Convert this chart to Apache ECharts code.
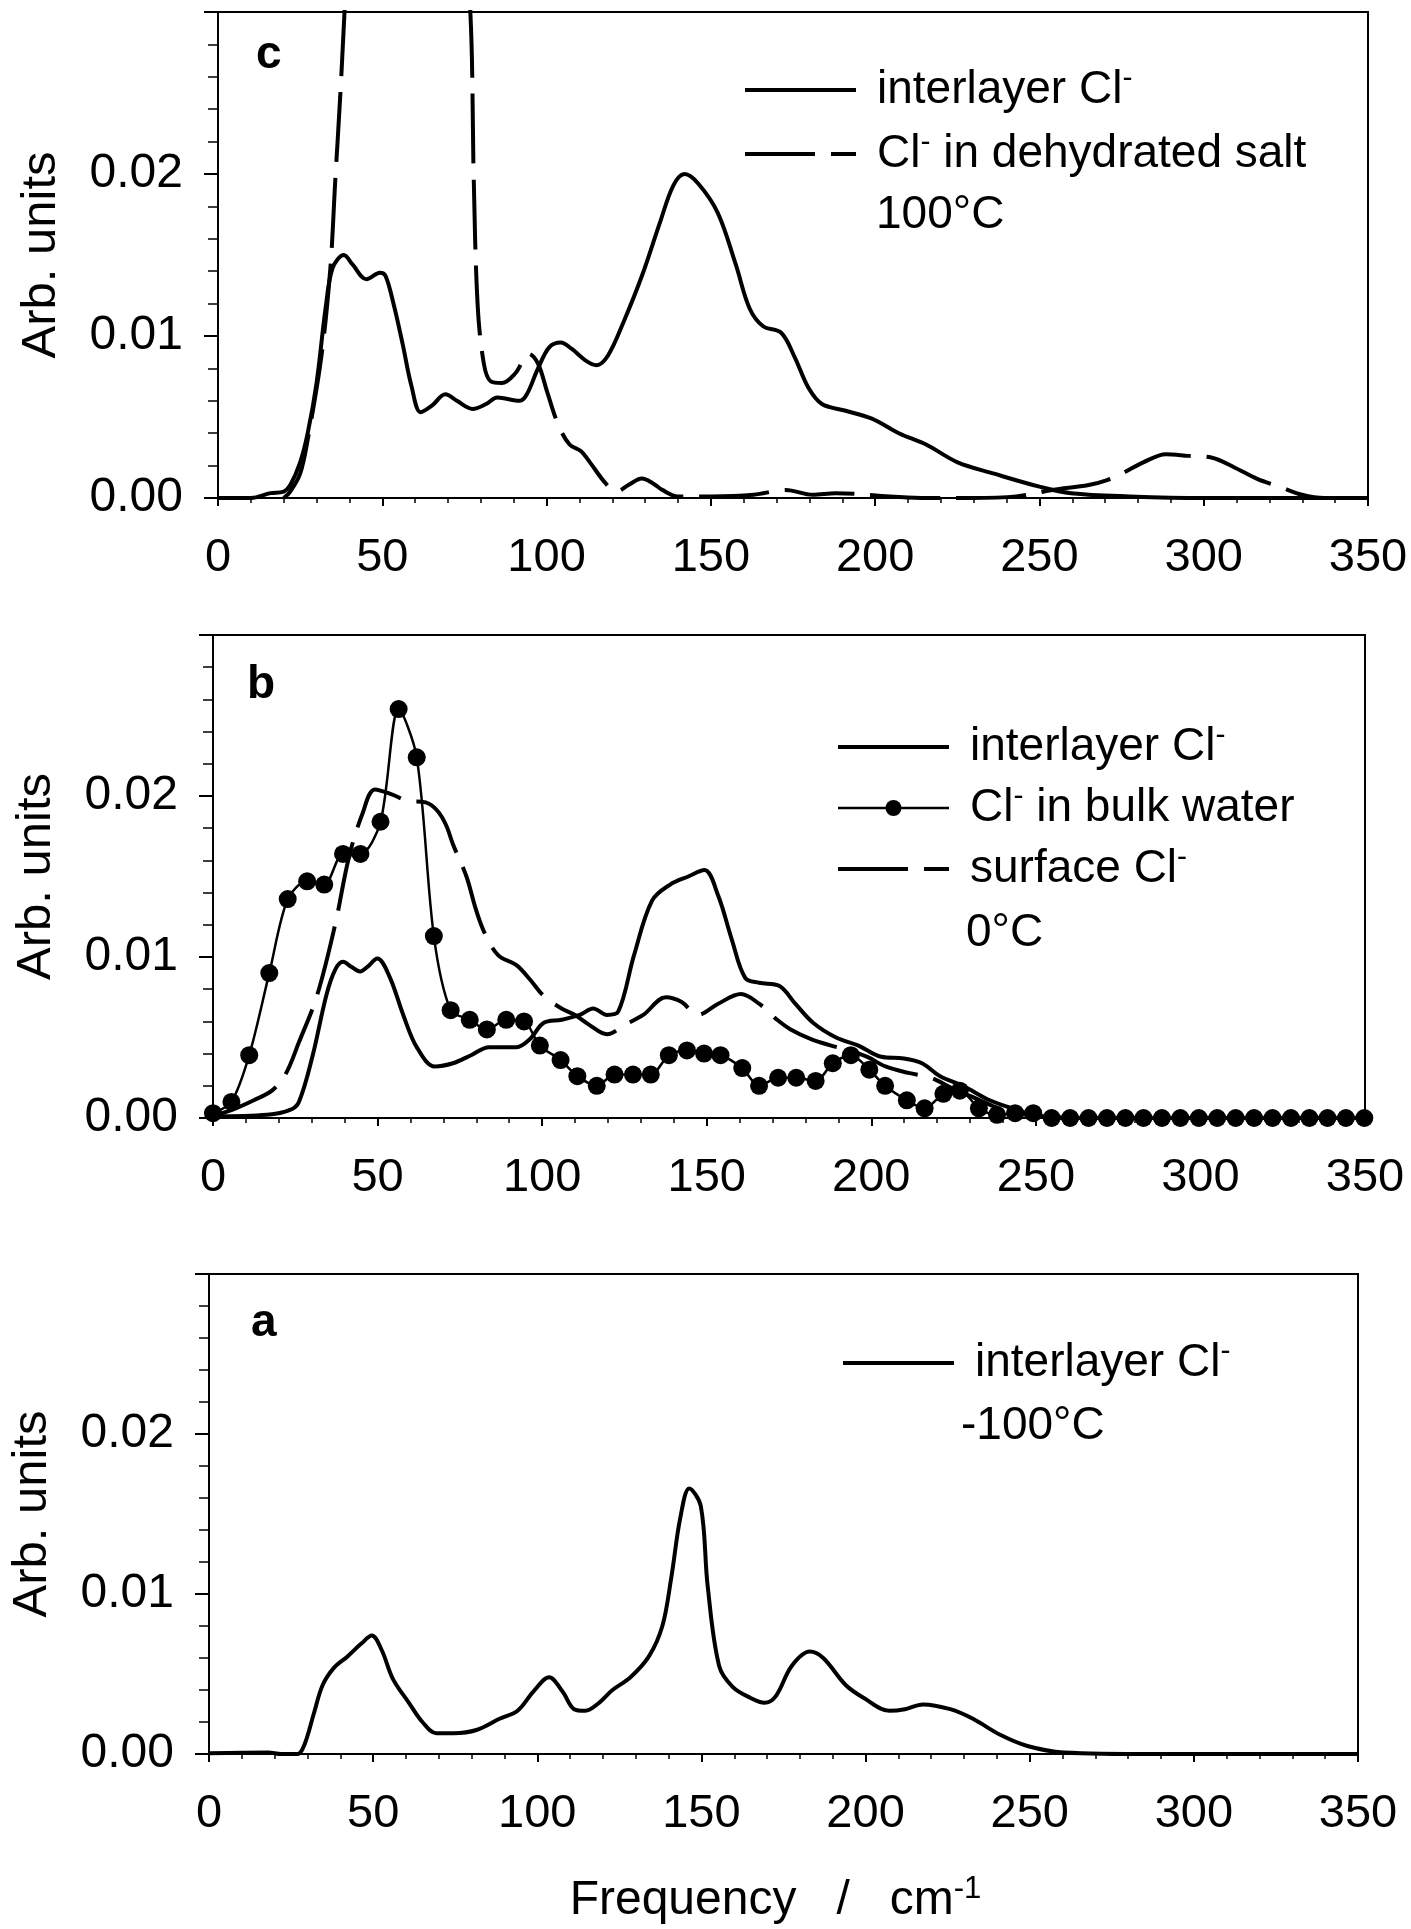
<html>
<head>
    <meta charset="utf-8">
    <script src="https://cdn.jsdelivr.net/npm/echarts@6/dist/echarts.min.js"></script>
</head>
<body style="margin:0;background:#fff">
<div id="main" style="width:1411px;height:1929px"></div>
<script>
    // [frequency cm-1, intensity]
    // panel c, 100 C
    var cInterlayer = [[0,0],[10,0],[16,0.0003],[20,0.0004],[22,0.0008],[25,0.0022],[27.3,0.004],[30,0.0071],[32.8,0.0118],[34.9,0.0142],[38.3,0.0150],[41,0.0144],[45.2,0.0135],[49.3,0.0139],[51,0.0137],[53.4,0.012],[56.2,0.0095],[58.9,0.0069],[61.7,0.0053],[65.1,0.0057],[69.2,0.0064],[72.7,0.006],[77.5,0.0055],[81.6,0.0058],[85,0.0062],[91.9,0.006],[94,0.0064],[97.4,0.008],[100.8,0.0093],[104.3,0.0096],[107.7,0.0092],[111.8,0.0085],[115.2,0.0082],[118.7,0.0088],[123.5,0.0109],[129,0.0137],[134.5,0.017],[138.6,0.0193],[142,0.0200],[146.2,0.0194],[152.1,0.0176],[157.6,0.0144],[161.8,0.0117],[165.9,0.0106],[171.4,0.0102],[175.5,0.0087],[179.7,0.0068],[183.8,0.0058],[190.7,0.0054],[199,0.0049],[207.2,0.0040],[215.5,0.0033],[225.1,0.0022],[236.2,0.0015],[250,0.0007],[259.6,0.0003],[277.5,0.0001],[300,0],[350,0]];
    var cDehydrated = [[20,0],[22,0.0004],[25,0.0015],[27.3,0.0036],[31.5,0.0088],[34.2,0.0142],[35.6,0.0193],[37.2,0.0248],[38.5,0.030],[40,0.036],[50,0.042],[65,0.042],[74,0.036],[76.8,0.030],[77.8,0.020],[79,0.012],[80.9,0.0083],[83,0.0072],[86.4,0.0071],[90.5,0.0077],[94.6,0.0089],[97.4,0.0083],[100.1,0.0066],[103.6,0.0045],[107,0.0033],[110.4,0.0029],[113.2,0.0022],[118,0.0009],[121.4,0.0004],[124.9,0.0008],[129,0.0012],[132.4,0.0009],[135.2,0.0005],[140,0.0001],[150,0.0001],[163,0.0002],[172.8,0.0005],[181,0.0002],[188,0.0003],[204.5,0.0001],[215.5,0],[229,0],[243,0.0001],[254,0.0005],[265,0.0008],[270.6,0.0011],[276,0.0016],[281.6,0.0022],[288.5,0.0027],[295.4,0.0026],[302.3,0.0025],[309.2,0.0019],[316.1,0.0012],[323,0.0007],[329.9,0.0002],[336.8,0],[345,0]];

    // panel b, 0 C
    var bInterlayer = [[0,0.0001],[16.5,0.0002],[23.4,0.0005],[26.1,0.001],[30.3,0.0039],[34.4,0.0076],[37.1,0.0092],[39.5,0.0097],[42,0.0094],[44.7,0.0091],[47,0.0094],[49.9,0.0099],[53.6,0.0088],[57.8,0.0064],[61.9,0.0044],[67.4,0.0032],[72.9,0.0034],[78.4,0.0039],[83.9,0.0044],[92.2,0.0044],[96.3,0.0049],[100.4,0.0059],[105.9,0.0061],[111.4,0.0064],[115.5,0.0068],[119.7,0.0064],[123.1,0.0066],[127.9,0.0101],[133.4,0.0135],[138.9,0.0145],[144.4,0.0150],[149.3,0.0154],[153.5,0.0138],[157.6,0.0111],[161.7,0.0087],[165.9,0.0084],[172.1,0.0082],[176.9,0.0071],[182.4,0.0059],[189.3,0.0050],[196.1,0.0045],[203,0.0038],[209.9,0.0037],[215.4,0.0034],[220.9,0.0026],[227.8,0.0020],[236,0.0011],[244.3,0.0005],[251.2,0.0001],[271.8,0],[350,0]];
    var bBulkWater = [[0,0.0003],[5.6,0.0010],[11,0.0039],[17.1,0.0090],[22.7,0.0136],[28.6,0.0147],[33.8,0.0145],[39.5,0.0164],[44.8,0.0164],[50.9,0.0184],[56.4,0.0254],[61.9,0.0224],[67.1,0.0113],[72.2,0.0067],[78,0.0061],[83.2,0.0055],[89.1,0.0061],[94.5,0.0060],[99.3,0.0045],[105.6,0.0036],[110.7,0.0026],[116.6,0.0020],[122,0.0027],[127.6,0.0027],[133,0.0027],[138.5,0.0039],[144,0.0042],[149.2,0.0040],[154.2,0.0039],[160.8,0.0031],[165.9,0.0020],[171.7,0.0025],[177.2,0.0025],[183.1,0.0023],[188.3,0.0034],[193.8,0.0039],[199.4,0.0030],[204.2,0.0020],[210.8,0.0011],[216.2,0.0006],[221.9,0.0015],[226.9,0.0017],[232.7,0.0006],[238.2,0.0002],[243.7,0.0003],[249.2,0.0003],[254.8,0],[260.4,0],[266,0],[271.6,0],[277.2,0],[282.7,0],[288.3,0],[293.9,0],[299.5,0],[305.1,0],[310.7,0],[316.3,0],[321.9,0],[327.5,0],[333.1,0],[338.6,0],[344.2,0],[349.8,0]];
    var bSurface = [[0,0.0001],[6.9,0.0006],[12.4,0.0011],[17.9,0.0017],[22,0.0027],[26.1,0.0047],[31.6,0.0076],[37.1,0.012],[41.3,0.0162],[45.4,0.0189],[49.2,0.0204],[54.3,0.0201],[59.1,0.0197],[64.6,0.0196],[68.1,0.0191],[70.8,0.0182],[72.9,0.017],[77,0.015],[79.8,0.013],[82.5,0.0115],[86.7,0.0101],[92.2,0.0095],[96.3,0.0086],[100.4,0.0076],[105.9,0.0068],[110,0.0064],[114.2,0.0058],[119.7,0.0052],[125.2,0.0058],[130.7,0.0064],[137.6,0.0075],[142.4,0.0072],[147.2,0.0064],[153.5,0.0071],[160.4,0.0077],[165.9,0.0071],[171.4,0.0061],[175.5,0.0055],[181.7,0.0049],[187.8,0.0045],[193.3,0.0042],[198.8,0.0038],[204.3,0.0032],[211.3,0.0028],[218.1,0.0025],[225,0.0018],[231.9,0.0012],[238.8,0.0006],[247.1,0.0002],[258,0]];

    // panel a, -100 C
    var aInterlayer = [[0,0.00005],[18,0.0001],[22,0],[27,0],[29.1,0.0006],[31.9,0.0025],[34.6,0.0043],[38.1,0.0054],[42.2,0.0061],[46.4,0.0069],[49.6,0.0074],[52.6,0.0065],[56,0.0047],[60.9,0.0032],[65,0.002],[69.2,0.0013],[74.6,0.0013],[81.5,0.0015],[88.5,0.0022],[94,0.0027],[98.8,0.0039],[103.6,0.0048],[107.7,0.0039],[111.2,0.0028],[114.6,0.0027],[118.8,0.0032],[122.9,0.004],[128.4,0.0048],[134,0.0061],[138.1,0.008],[140.8,0.011],[143.6,0.0148],[146.3,0.0166],[149.8,0.0155],[151.9,0.0105],[155.4,0.0055],[159.5,0.0042],[165,0.0035],[169.2,0.0032],[172.6,0.0036],[177.5,0.0055],[183,0.0064],[187.1,0.006],[194,0.0043],[199.5,0.0035],[207.2,0.0027],[212,0.0028],[217.5,0.0031],[225.8,0.0028],[232.7,0.0022],[241,0.0012],[249.3,0.0005],[260.3,0.0001],[287.9,0],[350,0]];

    var xRange = [0, 350, 50];
    var yRange = [0, 0.03, 0.01];

    var nameInter = 'interlayer Cl⁻';
    var nameDehyd = 'Cl⁻ in dehydrated salt';
    var nameBulk = 'Cl⁻ in bulk water';
    var nameSurf = 'surface Cl⁻';

    var FONT = "'Liberation Sans', Arial, sans-serif";
    var chart = echarts.init(document.getElementById('main'));

    var grids = [
        {left: 218, top: 12, width: 1150, height: 486},
        {left: 213, top: 635, width: 1152, height: 483},
        {left: 208, top: 1274, width: 1150, height: 481}
    ];

    function xAxis(i) {
        var ax = {
            type: 'value', gridIndex: i,
            min: xRange[0], max: xRange[1], interval: xRange[2],
            axisLine: {lineStyle: {color: '#000', width: 2}},
            axisTick: {length: 8, lineStyle: {color: '#000', width: 2}},
            minorTick: {show: true, splitNumber: 5, length: 5, lineStyle: {color: '#000', width: 1.5}},
            axisLabel: {color: '#000', fontSize: 47, fontFamily: FONT, margin: 37},
            splitLine: {show: false}
        };
        if (i === 2) {
            ax.name = 'Frequency   /   cm{sup|-1}';
            ax.nameLocation = 'middle';
            ax.nameGap = 120;
            ax.nameTextStyle = {color: '#000', fontSize: 48, fontFamily: FONT, lineHeight: 54, padding: [0, 16, 0, 0],
                rich: {sup: {fontSize: 31, lineHeight: 31, verticalAlign: 'top', fontFamily: FONT, color: '#000'}}};
        }
        return ax;
    }

    function yAxis(i) {
        return {
            type: 'value', gridIndex: i,
            min: yRange[0], max: yRange[1], interval: yRange[2],
            name: 'Arb. units', nameLocation: 'middle', nameGap: 152,
            nameTextStyle: {color: '#000', fontSize: 49, fontFamily: FONT},
            axisLine: {show: true, lineStyle: {color: '#000', width: 2}},
            axisTick: {show: true, length: 14, lineStyle: {color: '#000', width: 2}},
            minorTick: {show: true, splitNumber: 5, length: 10, lineStyle: {color: '#000', width: 1.5}},
            axisLabel: {
                color: '#000', fontSize: 48, fontFamily: FONT, margin: 35, showMaxLabel: false,
                formatter: function (v) { return v.toFixed(2); }
            },
            splitLine: {show: false}
        };
    }

    function line(name, idx, data, opts) {
        var s = {
            name: name, type: 'line', xAxisIndex: idx, yAxisIndex: idx, data: data,
            smooth: 0.35, symbol: 'none', showSymbol: false,
            lineStyle: {color: '#000', width: 4},
            itemStyle: {color: '#000'}
        };
        for (var k in opts) { s[k] = opts[k]; }
        return s;
    }

    var dash = [70, 16];
    var legendText = {
        color: '#000', fontSize: 46, fontFamily: FONT, lineHeight: 52, padding: [0, 0, 0, 16],
        rich: {sup: {fontSize: 30, lineHeight: 30, verticalAlign: 'top', fontFamily: FONT, color: '#000'}}
    };
    // plain lines get no marker in their legend sample
    function item(name) {
        if (name === nameBulk) {
            return {name: name, lineStyle: {width: 2.5}};
        }
        return {name: name, itemStyle: {opacity: 0}};
    }
    function legend(left, top, gap, names) {
        return {
            left: left, top: top, orient: 'vertical', itemWidth: 111, itemHeight: 20, itemGap: gap,
            selectedMode: false, data: names.map(item), textStyle: legendText,
            lineStyle: {width: 4},
            formatter: function (n) { return n.replace('⁻', '{sup|-}'); }
        };
    }

    function label(text, left, top, bold) {
        return {
            type: 'text', left: left, top: top,
            style: {text: text, fontSize: 46, fontWeight: bold ? 'bold' : 'normal', fontFamily: FONT, fill: '#000'}
        };
    }

    var option = {
        animation: false,
        backgroundColor: '#fff',
        grid: grids.map(function (g) {
            return {left: g.left, top: g.top, width: g.width, height: g.height,
                show: true, borderColor: '#000', borderWidth: 2, backgroundColor: 'transparent'};
        }),
        xAxis: [xAxis(0), xAxis(1), xAxis(2)],
        yAxis: [yAxis(0), yAxis(1), yAxis(2)],
        legend: [
            legend(738, 59, 12, [nameInter, nameDehyd]),
            legend(831, 716, 9, [nameInter, nameBulk, nameSurf]),
            legend(836, 1332, 12, [nameInter])
        ],
        graphic: [
            label('c', 256, 32, true),
            label('b', 247, 662, true),
            label('a', 251, 1300, true),
            label('100°C', 876, 192, false),
            label('0°C', 966, 910, false),
            label('-100°C', 961, 1403, false)
        ],
        series: [
            line(nameInter, 0, cInterlayer, {}),
            line(nameDehyd, 0, cDehydrated, {lineStyle: {color: '#000', width: 4, type: dash}}),
            line(nameInter, 1, bInterlayer, {}),
            line(nameBulk, 1, bBulkWater, {
                smooth: 0.3, symbol: 'circle', symbolSize: 18, showSymbol: true,
                lineStyle: {color: '#000', width: 2.5}
            }),
            line(nameSurf, 1, bSurface, {lineStyle: {color: '#000', width: 4, type: dash}}),
            line(nameInter, 2, aInterlayer, {})
        ]
    };

    chart.setOption(option);
</script>
</body>
</html>
